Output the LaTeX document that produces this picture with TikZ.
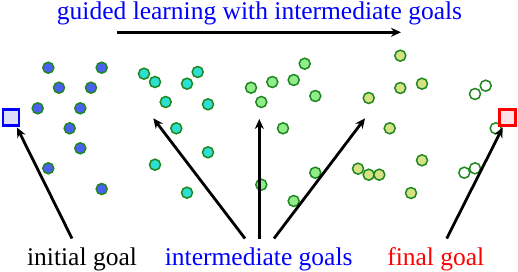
\documentclass[tikz,border=0pt]{standalone}
\usepackage{fontspec}
\setmainfont{Liberation Serif}
\usetikzlibrary{arrows.meta}
\definecolor{dotedge}{RGB}{30,135,30}
\definecolor{cblue}{RGB}{75,95,245}
\definecolor{ccyan}{RGB}{45,222,210}
\definecolor{cgreen}{RGB}{145,236,140}
\definecolor{colive}{RGB}{212,226,132}
\definecolor{sqblue}{RGB}{222,222,250}
\definecolor{sqred}{RGB}{255,226,230}
\tikzset{
  dot/.style={circle,draw=dotedge,line width=1.5pt,minimum size=11pt,inner sep=0pt},
  bdot/.style={dot,fill=cblue},
  cdot/.style={dot,fill=ccyan},
  gdot/.style={dot,fill=cgreen},
  odot/.style={dot,fill=colive},
  edot/.style={dot,fill=white},
  goalbox/.style={rectangle,line width=2.6pt,minimum size=16pt,inner sep=0pt},
  lbl/.style={font=\fontsize{25.5}{30}\selectfont,inner sep=0pt,anchor=base},
  arr/.style={line width=2.8pt,-{Stealth[length=10pt,width=9pt]}},
}
\begin{document}
\begin{tikzpicture}[x=1pt,y=-1pt]
\useasboundingbox (0,0) rectangle (518,272);
% title
\node[lbl,text=blue] (title) at (259.5,20) {guided learning with intermediate goals};
\coordinate (ta) at (117,32.3);
\coordinate (tb) at (401,32.3);
\draw[line width=2.5pt,-{Stealth[length=10pt,width=9pt]}] (ta) -- (tb);
% blue dots
\foreach \n/\x/\y in {b1/48.3/67.7,b2/101.7/67.7,b3/59/87.7,b4/91/87.7,b5/37.7/108.3,b6/80.3/108.3,b7/69.7/128.3,b8/80.3/148.3,b9/48.3/168.3,b10/101.7/189}
  \node[bdot] (\n) at (\x,\y) {};
% cyan dots
\foreach \n/\x/\y in {c1/144/73.7,c2/155/82,c3/197.7/72,c4/187/83.7,c5/165.7/102,c6/208/104.3,c7/176.3/128.3,c8/208/152.3,c9/155/164.7,c10/187/192.7}
  \node[cdot] (\n) at (\x,\y) {};
% green dots
\foreach \n/\x/\y in {g1/304.7/63.7,g2/272.3/82,g3/293.7/80,g4/251/87.7,g5/261.3/102,g6/315.3/96,g7/283/128.3,g8/315.3/172.7,g9/261.3/184.7,g10/293.7/201}
  \node[gdot] (\n) at (\x,\y) {};
% olive dots
\foreach \n/\x/\y in {o1/400.3/55.7,o2/400.3/88,o3/422/83.7,o4/368.7/98,o5/389.7/128.3,o6/422/160.3,o7/358/168.7,o8/368.7/174.7,o9/379.3/174.7,o10/411/193}
  \node[odot] (\n) at (\x,\y) {};
% empty dots
\foreach \n/\x/\y in {e1/475/94,e2/485.7/85.7,e3/495.7/128.3,e4/464.3/172.7,e5/475/168.3}
  \node[edot] (\n) at (\x,\y) {};
% goal squares
\node[goalbox,draw=blue,fill=sqblue] (init) at (11,117.5) {};
\node[goalbox,draw=red,fill=sqred] (final) at (507.2,117.5) {};
% labels
\node[lbl,text=black] (linit) at (82,265) {initial goal};
\node[lbl,text=blue] (linter) at (258.7,265) {intermediate goals};
\node[lbl,text=red] (lfinal) at (435.8,265) {final goal};
% arrow coordinates
\coordinate (s1) at (72,238.5);
\coordinate (t1) at (17,127.5);
\coordinate (s2) at (245,238.5);
\coordinate (t2) at (153.3,118.3);
\coordinate (s3) at (259.3,238.5);
\coordinate (t3) at (259.3,119);
\coordinate (s4) at (274,238.5);
\coordinate (t4) at (365,118.3);
\coordinate (s5) at (446.7,238.5);
\coordinate (t5) at (502.7,127.5);
\foreach \i in {1,...,5} \draw[arr] (s\i) -- (t\i);
\end{tikzpicture}
\end{document}
